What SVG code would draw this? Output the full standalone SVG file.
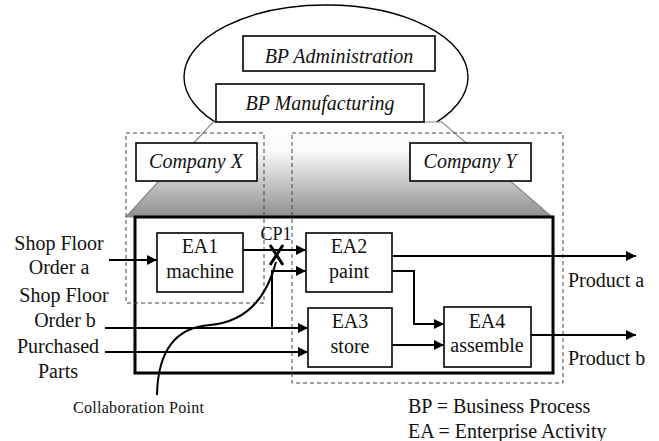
<svg xmlns="http://www.w3.org/2000/svg" width="659" height="441" viewBox="0 0 659 441" font-family="Liberation Serif, DejaVu Serif, serif">
<style>
.t{font-family:"Liberation Serif",serif;font-size:20px;text-anchor:middle;fill:#111;}
.i{font-family:"Liberation Serif",serif;font-size:20px;font-style:italic;text-anchor:middle;fill:#111;}
.l{font-family:"Liberation Serif",serif;font-size:20px;fill:#111;}
.box{fill:#fff;stroke:#000;stroke-width:1.6;}
.dash{fill:none;stroke:#444;stroke-width:1;stroke-dasharray:4,3;}
.c{fill:none;stroke:#000;stroke-width:2;}
.ca{fill:none;stroke:#000;stroke-width:2;marker-end:url(#ah);}
</style>
<defs>
<marker id="ah" viewBox="0 0 10 10" refX="10" refY="5" markerWidth="12" markerHeight="10" markerUnits="userSpaceOnUse" orient="auto">
<path d="M0,0 L10,5 L0,10 z" fill="#000"/>
</marker>
<linearGradient id="g" x1="0" y1="0" x2="0" y2="1">
<stop offset="0" stop-color="#fff"/>
<stop offset="0.3" stop-color="#fafafa"/>
<stop offset="1" stop-color="#8e8e8e"/>
</linearGradient>
</defs>
<g id="admin-ellipse">
<ellipse cx="326" cy="77" rx="142" ry="72" fill="#fff" stroke="#000" stroke-width="1.4"/>
</g>
<g id="bp-administration">
<rect class="box" x="243" y="36" width="192" height="35"/>
<text class="i" x="339" y="63" font-family="Liberation Serif">BP Administration</text>
</g>
<g id="trapezoid">
<polygon points="213,122 442,122 552,217 126,217" fill="url(#g)" stroke="#888" stroke-width="1.2"/>
</g>
<g id="bp-manufacturing">
<rect class="box" x="216" y="84" width="208" height="38"/>
<text class="i" x="320" y="110">BP Manufacturing</text>
</g>
<g id="main-process">
<rect x="135" y="217" width="418" height="156" fill="#fff" stroke="#000" stroke-width="3"/>
</g>
<g id="company-x-area">
<rect class="dash" x="126" y="133" width="138" height="170"/>
</g>
<g id="company-y-area">
<rect class="dash" x="292" y="133" width="271" height="250"/>
</g>
<g id="company-x">
<rect class="box" x="136" y="143" width="121" height="38"/>
<text class="i" x="196" y="168">Company X</text>
</g>
<g id="company-y">
<rect class="box" x="410" y="143" width="121" height="38"/>
<text class="i" x="470" y="168">Company Y</text>
</g>
<g id="connectors">
<line class="ca" x1="109" y1="260" x2="157" y2="260"/>
<line class="ca" x1="243" y1="250" x2="306" y2="250"/>
<polyline class="ca" points="272,328 272,271 306,271"/>
<line class="ca" x1="105" y1="328" x2="308" y2="328"/>
<line class="ca" x1="105" y1="352" x2="308" y2="352"/>
<line class="ca" x1="392" y1="256" x2="636" y2="256"/>
<polyline class="ca" points="392,271 414,271 414,324 444,324"/>
<line class="ca" x1="392" y1="345" x2="444" y2="345"/>
<line class="ca" x1="531" y1="335" x2="636" y2="335"/>
<path class="c" d="M157,395 C158,345 180,327 210,325 C245,322 266,300 276,262"/>
<line x1="270" y1="245" x2="283" y2="265" stroke="#000" stroke-width="3"/>
<line x1="283" y1="245" x2="270" y2="265" stroke="#000" stroke-width="3"/>
</g>
<g id="ea1">
<rect class="box" x="157" y="233" width="86" height="59"/>
<text class="t" x="200" y="253">EA1</text>
<text class="t" x="200" y="278">machine</text>
</g>
<g id="ea2">
<rect class="box" x="306" y="233" width="86" height="59"/>
<text class="t" x="349" y="253">EA2</text>
<text class="t" x="349" y="278">paint</text>
</g>
<g id="ea3">
<rect class="box" x="308" y="308" width="84" height="59"/>
<text class="t" x="350" y="328">EA3</text>
<text class="t" x="350" y="353">store</text>
</g>
<g id="ea4">
<rect class="box" x="444" y="307" width="87" height="60"/>
<text class="t" x="487" y="328">EA4</text>
<text class="t" x="487" y="352">assemble</text>
</g>
<g id="labels">
<text class="t" x="276" y="240" style="font-size:18px">CP1</text>
<text class="t" x="59" y="250">Shop Floor</text>
<text class="t" x="59" y="274">Order a</text>
<text class="t" x="64" y="302">Shop Floor</text>
<text class="t" x="65" y="327">Order b</text>
<text class="t" x="58" y="353">Purchased</text>
<text class="t" x="58" y="378">Parts</text>
<text class="l" x="568" y="287">Product a</text>
<text class="l" x="568" y="365">Product b</text>
<text class="l" x="73" y="413" style="font-size:16px" textLength="131">Collaboration Point</text>
<text class="l" x="408" y="413">BP = Business Process</text>
<text class="l" x="408" y="438">EA = Enterprise Activity</text>
</g>
</svg>
